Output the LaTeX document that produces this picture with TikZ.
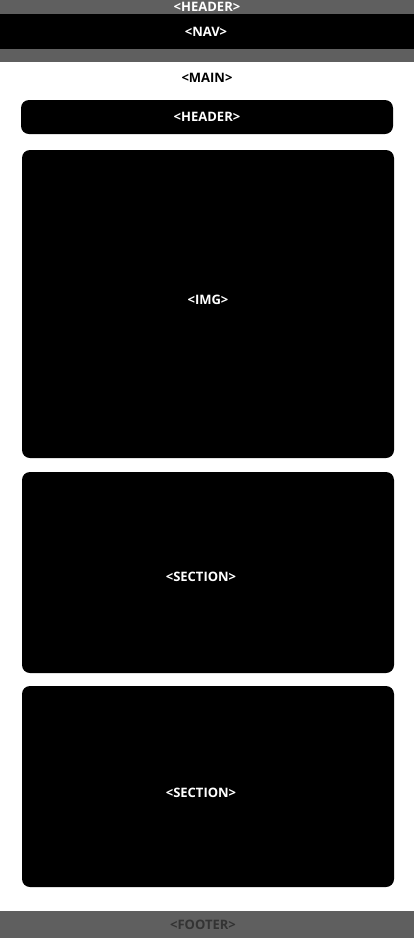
\documentclass[tikz,border=0pt]{standalone}
\usepackage{fontspec}
\setmainfont{Open Sans}
\definecolor{bandgray}{HTML}{5F5F5F}
\definecolor{footgray}{HTML}{333333}
\tikzset{
    label/.style={font=\bfseries\fontsize{13}{15}\selectfont, inner sep=0pt},
    blockbox/.style={fill=black, rounded corners=8pt, inner sep=0pt, minimum width=372pt}
}
\begin{document}
\begin{tikzpicture}[x=1pt,y=-1pt]
    \useasboundingbox (0,0) rectangle (414,938);
    \fill[white] (0,0) rectangle (414,938);
    % page header with nav
    \fill[color=bandgray] (0,0) rectangle (414,62);
    \fill[color=black] (0,14) rectangle (414,49);
    \node[label, text=white] (pagehead) at (207,7) {<HEADER>};
    \node[label, text=white] (nav) at (206,31.5) {<NAV>};
    % main content
    \node[label, text=black] (main) at (207,78) {<MAIN>};
    \node[blockbox, minimum height=34pt] (mainhead) at (207,117) {};
    \node[blockbox, minimum height=308pt] (img) at (208,304) {};
    \node[blockbox, minimum height=201pt] (sec1) at (208,572.5) {};
    \node[blockbox, minimum height=201pt] (sec2) at (208,786.5) {};
    \node[label, text=white] (mainheadtext) at (mainhead.center) {<HEADER>};
    \node[label, text=white] (imgtext) at (208,300) {<IMG>};
    \node[label, text=white] (sec1text) at (201,576.5) {<SECTION>};
    \node[label, text=white] (sec2text) at (201,793) {<SECTION>};
    % footer
    \fill[color=bandgray] (0,911) rectangle (414,938);
    \node[label, text=footgray] (footer) at (203,925) {<FOOTER>};
\end{tikzpicture}
\end{document}
